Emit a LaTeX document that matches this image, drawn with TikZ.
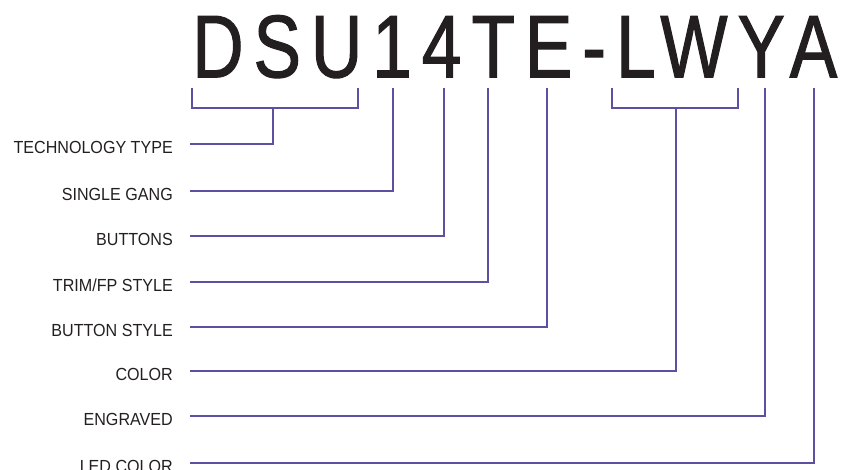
\documentclass[tikz,border=0pt]{standalone}
\usepackage{fontspec}
\setmainfont{Liberation Sans}
\newfontfamily\codefont[FakeStretch=0.8, LetterSpace=11.2, FakeBold=1.2]{Liberation Sans}
\newfontfamily\dinfont[FakeStretch=0.92]{Liberation Sans}
\definecolor{codeline}{RGB}{94,79,162}
\definecolor{codeink}{RGB}{35,31,32}
\tikzset{
    lbl/.style={anchor=east, inner xsep=17pt, inner ysep=0pt, text height=19pt, text depth=0pt,
        font=\dinfont\fontsize{17.5}{18}\selectfont, text=codeink},
    wire/.style={codeline, line width=2pt},
}
\begin{document}
\begin{tikzpicture}[x=1pt, y=-1pt]
    \useasboundingbox (0,0) rectangle (847,470);

    % Part number
    \node[anchor=base west, inner sep=0pt, text=codeink, font=\codefont\fontsize{89}{89}\selectfont]
        (code) at (192,77.3) {DSU14TE-LWYA};

    % Tick tops under the characters
    \coordinate (dsuL) at (192,88);
    \coordinate (dsuR) at (358,88);
    \coordinate (dsu) at (273,108);
    \coordinate (one) at (392.7,88);
    \coordinate (four) at (444,88);
    \coordinate (trim) at (488,88);
    \coordinate (btn) at (547,88);
    \coordinate (lwyL) at (612,88);
    \coordinate (lwyR) at (738,88);
    \coordinate (lwy) at (676,108);
    \coordinate (eng) at (765,88);
    \coordinate (led) at (814,88);

    % Labels
    \node[lbl] (tech) at (190,144) {TECHNOLOGY TYPE};
    \node[lbl] (gang) at (190,191) {SINGLE GANG};
    \node[lbl] (buttons) at (190,236) {BUTTONS};
    \node[lbl] (trimfp) at (190,282) {TRIM/FP STYLE};
    \node[lbl] (bstyle) at (190,327) {BUTTON STYLE};
    \node[lbl] (color) at (190,371) {COLOR};
    \node[lbl] (engraved) at (190,416) {ENGRAVED};
    \node[lbl] (ledcolor) at (190,462.7) {LED COLOR};

    % Brackets
    \draw[wire] (dsuL) |- (dsuR |- dsu) -- (dsuR);
    \draw[wire] (lwyL) |- (lwyR |- lwy) -- (lwyR);

    % Leaders
    \draw[wire] (tech.east) -| (dsu);
    \draw[wire] (gang.east) -| (one);
    \draw[wire] (buttons.east) -| (four);
    \draw[wire] (trimfp.east) -| (trim);
    \draw[wire] (bstyle.east) -| (btn);
    \draw[wire] (color.east) -| (lwy);
    \draw[wire] (engraved.east) -| (eng);
    \draw[wire] (ledcolor.east) -| (led);
\end{tikzpicture}
\end{document}
